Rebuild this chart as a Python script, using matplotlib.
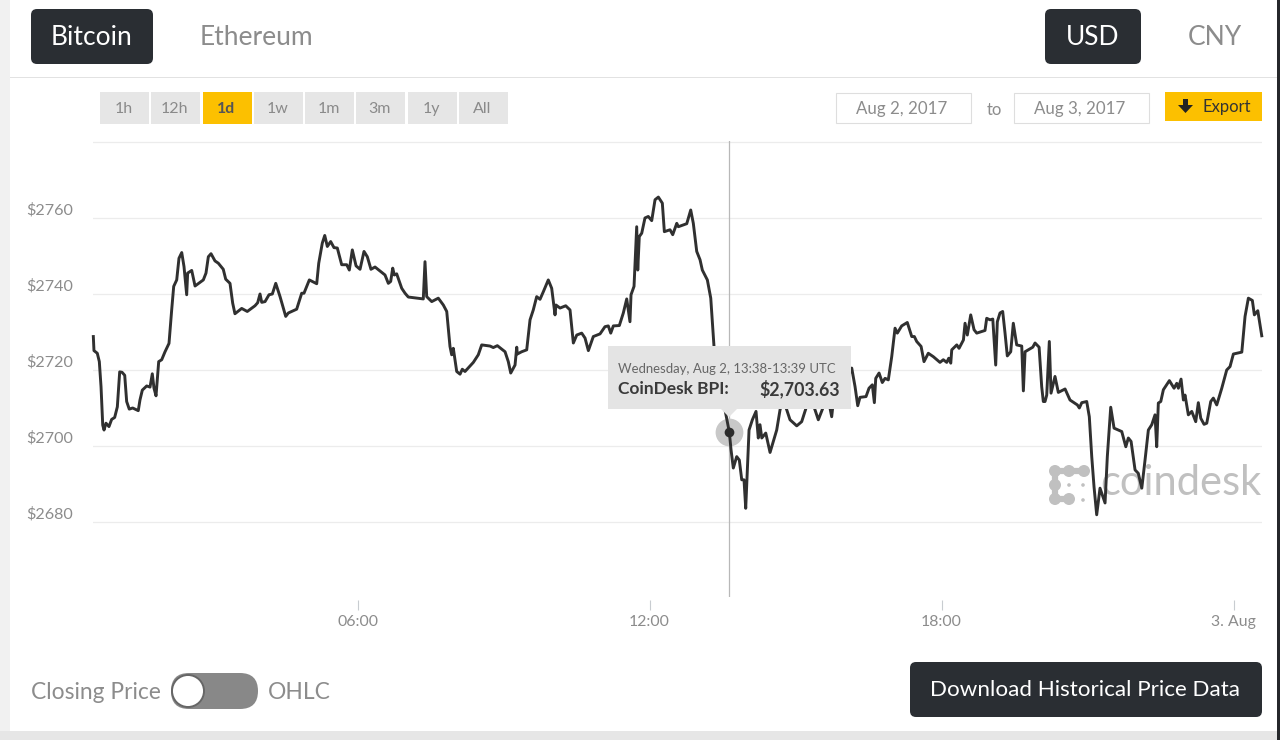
import matplotlib
matplotlib.use("Agg")
import matplotlib.pyplot as plt
from matplotlib.patches import FancyBboxPatch, Rectangle, Circle, Polygon

W, H = 1280, 740
plt.rcParams['font.family'] = ['Lato', 'DejaVu Sans']

# minutes since 00:00 UTC on Aug 2, 2017
minutes = [34.3,35.1,39.2,41.7,43.8,45.9,47.5,49.9,53.6,56.9,60.6,63.9,66.8,69.7,73.0,75.4,78.6,82.8,89.7,91.8,94.7,100.1,104.2,107.0,109.1,111.6,114.9,118.6,122.7,127.6,130.9,133.4,137.1,139.9,143.3,146.1,149.4,150.6,155.6,159.7,169.9,173.2,176.1,179.4,184.3,188.4,194.5,197.5,202.8,206.1,208.9,217.2,224.1,233.6,236.9,239.8,241.9,246.0,250.9,255.0,259.2,264.5,271.5,274.7,285.0,291.2,294.0,300.6,309.7,312.2,316.6,319.6,322.8,326.9,331.0,335.1,340.5,346.7,349.9,353.6,358.2,363.1,368.0,372.1,376.6,381.6,393.9,398.0,400.9,403.4,405.4,408.3,414.5,418.6,422.6,441.1,443.2,445.3,451.5,459.6,465.8,470.0,474.0,476.1,478.1,482.3,486.4,489.2,492.5,502.8,508.9,513.1,523.4,527.4,532.4,541.9,545.9,548.9,554.2,556.3,557.0,562.4,568.6,572.7,576.7,580.9,585.0,589.1,595.2,599.4,603.5,604.7,609.7,616.7,622.0,626.1,630.3,636.4,640.5,644.6,650.7,659.0,665.1,669.2,672.2,675.4,682.8,687.7,691.9,695.9,697.2,700.9,704.2,705.5,707.4,710.4,714.4,718.5,722.7,726.8,730.9,735.8,738.3,745.3,748.6,753.6,755.5,765.9,770.8,774.0,778.2,782.3,785.1,791.3,795.5,798.7,799.5,804.5,811.9,818.4,820.5,823.3,827.5,830.7,833.7,836.5,838.6,842.7,846.8,851.3,854.1,856.2,858.4,863.3,868.6,876.8,880.9,884.6,889.2,893.2,901.5,907.6,913.0,920.0,924.0,928.1,934.3,940.5,944.6,945.9,954.9,961.0,969.3,973.4,976.7,979.5,986.9,990.6,994.7,997.2,998.9,1003.0,1007.0,1010.4,1014.4,1018.6,1022.7,1025.5,1030.9,1037.8,1043.3,1046.5,1049.4,1054.8,1058.4,1063.7,1069.9,1078.1,1082.2,1086.4,1088.9,1091.4,1092.6,1098.8,1101.6,1107.0,1109.0,1111.8,1116.0,1120.1,1123.4,1133.6,1135.7,1139.8,1143.2,1146.8,1148.8,1152.1,1155.4,1158.3,1161.1,1165.3,1168.5,1172.7,1178.9,1180.9,1183.0,1192.5,1195.3,1200.3,1203.5,1205.5,1207.6,1209.7,1212.9,1215.0,1219.9,1224.0,1232.3,1238.4,1247.5,1249.9,1252.9,1259.0,1262.2,1265.2,1268.0,1271.3,1275.4,1281.6,1284.4,1288.6,1292.7,1302.2,1307.2,1310.3,1313.7,1318.6,1322.6,1326.9,1330.9,1335.0,1339.2,1343.2,1345.3,1347.3,1350.3,1353.5,1360.9,1366.7,1370.0,1372.0,1375.3,1378.2,1380.2,1384.3,1388.5,1393.4,1396.6,1399.6,1403.7,1407.0,1411.9,1415.1,1419.3,1425.5,1431.6,1435.7,1439.8,1450.2,1454.2,1458.3,1463.2,1465.7,1469.9,1474.8]

# CoinDesk BPI, USD
prices = [2728.8,2725.1,2724.4,2722.2,2715.6,2705.5,2704.2,2706.0,2705.1,2707.0,2707.5,2710.3,2719.5,2719.4,2718.6,2711.7,2709.7,2710.0,2709.3,2712.1,2714.7,2715.8,2715.5,2719.0,2715.2,2713.2,2722.2,2722.7,2724.8,2727.0,2735.8,2742.0,2743.7,2749.4,2750.9,2747.2,2739.8,2745.5,2746.2,2742.1,2743.7,2745.5,2749.8,2750.6,2748.7,2748.1,2746.5,2743.9,2742.8,2737.6,2734.8,2736.2,2735.4,2736.9,2737.7,2740.0,2737.8,2738.0,2739.8,2740.0,2742.8,2739.3,2734.1,2735.0,2736.0,2740.2,2740.2,2743.7,2742.7,2748.1,2753.4,2755.4,2752.5,2753.8,2752.2,2752.1,2747.7,2747.7,2746.3,2751.6,2747.4,2746.5,2751.2,2749.8,2746.5,2747.1,2745.0,2742.8,2743.3,2746.8,2745.0,2745.3,2741.5,2740.2,2739.2,2738.7,2748.5,2739.3,2738.0,2738.9,2737.1,2735.4,2726.2,2724.0,2725.7,2719.6,2718.9,2720.2,2719.6,2722.0,2724.0,2726.6,2726.3,2725.9,2726.4,2724.8,2722.2,2719.2,2721.3,2726.0,2724.2,2724.8,2725.3,2733.2,2735.8,2739.3,2738.6,2740.6,2743.7,2741.5,2734.5,2737.1,2736.3,2736.9,2735.8,2727.1,2729.2,2729.7,2728.4,2725.1,2728.8,2729.5,2731.4,2731.6,2729.7,2731.6,2731.7,2735.0,2738.7,2732.7,2739.8,2742.0,2757.7,2746.3,2755.1,2756.0,2760.0,2760.4,2759.3,2764.8,2765.5,2763.9,2756.4,2756.9,2755.6,2758.6,2757.7,2758.5,2762.1,2758.6,2751.2,2749.0,2746.3,2743.7,2738.9,2728.8,2726.2,2716.1,2710.8,2703.63,2699.0,2694.2,2697.2,2696.3,2691.1,2691.1,2683.6,2704.2,2706.9,2709.1,2702.1,2705.6,2702.1,2703.4,2698.3,2704.2,2709.5,2712.1,2709.5,2706.9,2705.3,2706.4,2710.0,2712.1,2709.5,2706.9,2710.3,2712.1,2707.7,2710.3,2713.5,2716.1,2720.5,2715.6,2710.6,2712.8,2713.0,2715.2,2716.1,2711.4,2717.8,2719.2,2716.7,2717.8,2717.4,2723.5,2731.0,2729.7,2731.6,2732.5,2728.8,2728.8,2727.5,2726.2,2722.2,2724.4,2723.5,2722.0,2722.7,2722.0,2723.1,2721.8,2725.3,2726.6,2725.7,2727.9,2732.3,2729.2,2734.5,2730.6,2729.7,2730.4,2733.6,2733.2,2733.4,2721.3,2732.7,2735.0,2735.4,2729.7,2723.7,2724.8,2732.3,2726.6,2726.3,2714.5,2724.8,2726.0,2727.1,2726.0,2715.6,2711.7,2711.7,2713.4,2727.5,2713.9,2718.3,2714.1,2715.0,2712.1,2710.8,2710.0,2711.4,2711.7,2707.7,2697.2,2689.3,2681.9,2688.9,2685.0,2697.2,2710.2,2704.7,2703.8,2699.8,2702.1,2701.2,2693.7,2692.8,2688.9,2696.3,2704.2,2705.6,2708.2,2699.8,2711.3,2711.7,2714.8,2717.2,2715.2,2716.5,2715.2,2717.6,2712.1,2713.4,2708.2,2709.1,2706.4,2711.4,2707.3,2705.7,2706.0,2711.7,2712.6,2710.8,2715.2,2720.0,2720.9,2724.2,2724.7,2734.1,2738.9,2738.3,2734.5,2735.6,2729.0]

y_ticks = [2680, 2700, 2720, 2740, 2760, 2780]
y_labels = ['$2680', '$2700', '$2720', '$2740', '$2760', '']
x_ticks = [360, 720, 1080, 1440]
x_labels = ['06:00', '12:00', '18:00', '3. Aug']
selected_minute = 818.4
selected_price = 2703.63
ranges = ['1h', '12h', '1d', '1w', '1m', '3m', '1y', 'All']
active_range = '1d'

DARK = '#2a2e33'
GREY_TXT = '#8c8c8c'
GRID = '#ececec'

fig = plt.figure(figsize=(W / 100, H / 100), dpi=100, facecolor='white')


def overlay(z):
    a = fig.add_axes([0, 0, 1, 1], zorder=z)
    a.set_xlim(0, W)
    a.set_ylim(H, 0)
    a.axis('off')
    a.patch.set_alpha(0)
    return a


bg = overlay(0)
fg = overlay(2)


def box(a, x0, y0, x1, y1, fc, ec='none', r=0, lw=0, z=2):
    if r:
        p = FancyBboxPatch((x0 + r, y0 + r), x1 - x0 - 2 * r, y1 - y0 - 2 * r,
                           boxstyle=f'round,pad={r},rounding_size={r}',
                           fc=fc, ec=ec, lw=lw, zorder=z)
    else:
        p = Rectangle((x0, y0), x1 - x0, y1 - y0, fc=fc, ec=ec, lw=lw, zorder=z)
    a.add_patch(p)


def label(a, x, y, s, size, color, ha='center', weight='normal', z=5):
    a.text(x, y + size * 0.1, s, fontsize=size, color=color, ha=ha, va='center',
           fontweight=weight, zorder=z)


# page frame
box(bg, 0, 0, 10, H, '#f1f1f1')
box(bg, 0, 731, W, H, '#e6e6e6')
box(bg, 1277, 0, W, H, '#26282b')
box(bg, 10, 76.5, 1277, 78, '#e2e2e2')

# header tabs
box(bg, 31, 9, 153, 64, DARK, r=6)
label(bg, 91.5, 36, 'Bitcoin', 19, 'white')
label(bg, 256, 36, 'Ethereum', 19, GREY_TXT)
box(bg, 1045, 9, 1141, 64, DARK, r=6)
label(bg, 1093, 36, 'USD', 19, 'white')
label(bg, 1215, 36, 'CNY', 19, GREY_TXT)

# range buttons
range_x = [100, 151, 203, 254, 305, 356, 408, 459]
for rx, rng in zip(range_x, ranges):
    on = rng == active_range
    box(bg, rx, 92, rx + 48.5, 124, '#fcc000' if on else '#e6e6e6')
    label(bg, rx + 23.5, 108, rng, 11.5, '#555555' if on else '#8a8a8a',
          weight='bold' if on else 'normal')

# date range and export
box(bg, 836, 93, 971, 123, 'white', ec='#dedede', lw=0.8)
label(bg, 902, 107.5, 'Aug 2, 2017', 12.2, GREY_TXT)
label(bg, 994, 108.5, 'to', 12, GREY_TXT)
box(bg, 1014, 93, 1149, 123, 'white', ec='#dedede', lw=0.8)
label(bg, 1080, 107.5, 'Aug 3, 2017', 12.2, GREY_TXT)
box(bg, 1165, 92, 1262, 121, '#fcc000')
bg.add_patch(Polygon([(1183, 99), (1188, 99), (1188, 105), (1193, 105), (1185.5, 113),
                      (1178, 105), (1183, 105)], fc='#222222', ec='none', zorder=5))
label(bg, 1227, 106, 'Export', 12, '#333333')

# watermark
WM = '#c0c0c0'
bg.plot([1055, 1084], [471, 471], color=WM, lw=4.5, solid_capstyle='round', zorder=2)
bg.plot([1055, 1055, 1069], [471, 499, 499], color=WM, lw=4.5, solid_capstyle='round',
        solid_joinstyle='round', zorder=2)
for cx, cy, cr in [(1055, 471, 6), (1069, 471, 6), (1084, 471, 6), (1055, 485, 6),
                   (1055, 499, 6), (1069, 499, 6), (1069, 485, 1.8), (1083, 485, 1.8),
                   (1083, 500, 1.8)]:
    bg.add_patch(Circle((cx, cy), cr, fc=WM, ec='none', zorder=2))
label(bg, 1181, 480, 'coindesk', 30, WM, z=2)

# footer controls
label(bg, 96, 691, 'Closing Price', 16.4, GREY_TXT)
box(bg, 171, 673, 258, 709, '#888888', r=18)
bg.add_patch(Circle((188, 691), 16, fc='white', ec='#666666', lw=1.4, zorder=5))
label(bg, 299, 691, 'OHLC', 16.4, GREY_TXT)
box(bg, 910, 662, 1262, 717, DARK, r=6)
label(bg, 1085.5, 688.5, 'Download Historical Price Data', 16.1, 'white')

# chart
left, right, top, bottom = 93, 1262, 141, 597
ax = fig.add_axes([left / W, (H - bottom) / H, (right - left) / W, (bottom - top) / H], zorder=1)
ax.patch.set_alpha(0)
for s in ax.spines.values():
    s.set_visible(False)
ax.spines['bottom'].set_position(('outward', 2))
ax.set_xlim(33.9, 1475.1)
ax.set_ylim(2660.26, 2780.26)
ax.set_yticks(y_ticks)
ax.set_yticklabels([])
ax.tick_params(axis='y', length=0)
ax.grid(axis='y', color=GRID, lw=0.9)
ax.set_axisbelow(True)
ax.set_xticks(x_ticks)
ax.set_xticklabels(x_labels, fontsize=11.4, color=GREY_TXT)
ax.tick_params(axis='x', length=7.5, width=0.8, color='#c8ccd0', pad=3.5)
for v, s in zip(y_ticks, y_labels):
    ax.annotate(s, xy=(0, v), xycoords=('axes fraction', 'data'), xytext=(-67, 8),
                textcoords='offset pixels', fontsize=11.6, color=GREY_TXT,
                va='center', ha='left')
ax.axvline(selected_minute - 0.6, color='#b8b8b8', lw=0.9, zorder=2)
ax.plot([selected_minute], [selected_price], 'o', ms=20, mfc='#c8c8c8', mec='none', zorder=3)
ax.plot(minutes, prices, color='#303030', lw=2.1, solid_joinstyle='round', zorder=4, clip_on=False)
ax.plot([selected_minute], [selected_price], 'o', ms=7, mfc='#2b2b2b', mec='none', zorder=5)

# tooltip
box(fg, 608, 346, 851, 409, '#e4e4e4')
fg.add_patch(Polygon([(721, 409), (737, 409), (729, 417)], fc='#e4e4e4', ec='none', zorder=2))
label(fg, 618, 368, 'Wednesday, Aug 2, 13:38-13:39 UTC', 9.45, '#666666', ha='left')
label(fg, 618, 387.5, 'CoinDesk BPI:', 12.5, '#3a3a3a', ha='left', weight='bold')
label(fg, 840, 387.5, '$2,703.63', 12.8, '#3a3a3a', ha='right', weight='bold')

fig.savefig('out.png', dpi=100)
